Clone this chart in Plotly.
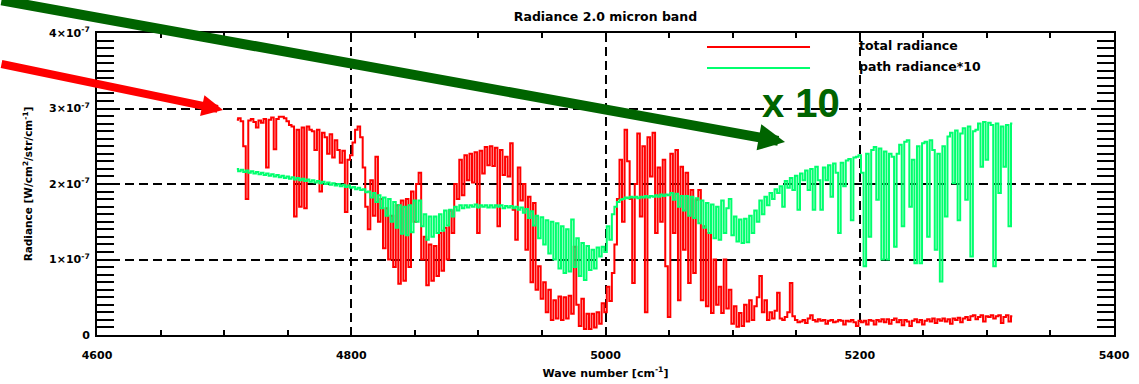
import plotly.graph_objects as go

# ---------------- data ----------------
WN_START = 4710          # cm^-1, first sample
WN_STEP = 2              # cm^-1, sample spacing
VALUE_UNIT = 1e-9        # arrays below are in units of 1e-9 W/cm2/str/cm-1

# total radiance (red)
total_radiance = [
    285, 287, 283, 250, 180, 284, 286, 282, 275, 284,   # 4710-4728
    281, 286, 222, 285, 288, 246, 286, 289, 289, 287,   # 4730-4748
    283, 278, 276, 157, 272, 170, 275, 168, 276, 272,   # 4750-4768
    270, 245, 272, 190, 268, 262, 240, 266, 235, 258,   # 4770-4788
    245, 228, 244, 163, 232, 238, 255, 272, 276, 262,   # 4790-4808
    222, 170, 140, 205, 158, 236, 150, 180, 115, 168,   # 4810-4828
    100, 158, 90, 172, 68, 178, 72, 180, 90, 190,       # 4830-4848
    150, 200, 215, 100, 130, 66, 120, 72, 118, 78,      # 4850-4868
    135, 85, 142, 100, 165, 135, 200, 180, 232, 185,    # 4870-4888
    238, 205, 240, 202, 242, 135, 244, 214, 249, 225,   # 4890-4908
    250, 224, 248, 144, 245, 212, 236, 210, 254, 166,   # 4910-4928
    126, 222, 178, 200, 113, 183, 70, 175, 60, 91,      # 4930-4948
    48, 70, 30, 60, 20, 46, 22, 51, 20, 50,             # 4950-4968
    22, 52, 28, 117, 40, 12, 48, 8, 28, 8,              # 4970-4988
    28, 10, 30, 15, 42, 30, 64, 45, 82, 120,            # 4990-5008
    180, 232, 150, 272, 230, 180, 69, 200, 267, 157,    # 5010-5028
    250, 30, 262, 210, 268, 135, 222, 150, 232, 91,     # 5030-5048
    24, 240, 135, 245, 46, 223, 113, 215, 69, 192,      # 5050-5068
    82, 179, 192, 46, 144, 38, 135, 29, 100, 40,        # 5070-5088
    64, 29, 100, 35, 60, 15, 38, 11, 29, 12,            # 5090-5108
    40, 18, 46, 20, 38, 50, 78, 30, 46, 20,             # 5110-5128
    30, 22, 32, 56, 22, 20, 24, 30, 69, 25,             # 5130-5148
    20, 17, 18, 20, 16, 22, 26, 20, 18, 21,             # 5150-5168
    19, 20, 15, 19, 20, 17, 18, 20, 19, 14,             # 5170-5188
    19, 18, 20, 17, 12, 19, 17, 19, 14, 20,             # 5190-5208
    19, 14, 20, 18, 21, 17, 21, 15, 20, 22,             # 5210-5228
    17, 20, 13, 20, 18, 12, 19, 21, 17, 20,             # 5230-5248
    14, 19, 21, 18, 22, 16, 21, 19, 22, 18,             # 5250-5268
    21, 15, 22, 20, 23, 17, 22, 24, 20, 25,             # 5270-5288
    26, 21, 24, 26, 18, 25, 24, 26, 22, 25,             # 5290-5308
    26, 16, 24, 26, 18, 25,                             # 5310-5320
]

# path radiance * 10 (green)
path_radiance_x10 = [
    220, 217, 219, 216, 218, 215, 217, 214, 216, 213,   # 4710-4728
    215, 212, 214, 211, 213, 210, 212, 209, 211, 208,   # 4730-4748
    210, 207, 209, 206, 208, 205, 207, 204, 206, 203,   # 4750-4768
    205, 202, 204, 201, 203, 200, 202, 199, 201, 198,   # 4770-4788
    200, 197, 199, 196, 198, 195, 196, 193, 195, 192,   # 4790-4808
    193, 189, 190, 182, 188, 176, 185, 168, 182, 158,   # 4810-4828
    180, 150, 176, 142, 172, 134, 170, 132, 172, 136,   # 4830-4848
    178, 150, 178, 144, 160, 126, 157, 130, 157, 135,   # 4850-4868
    160, 138, 165, 145, 166, 157, 170, 165, 172, 168,   # 4870-4888
    172, 169, 172, 170, 173, 169, 172, 170, 172, 169,   # 4890-4908
    172, 169, 172, 170, 172, 168, 171, 169, 171, 168,   # 4910-4928
    170, 166, 169, 162, 167, 155, 164, 145, 158, 128,   # 4930-4948
    156, 120, 152, 108, 150, 100, 148, 88, 144, 82,     # 4950-4968
    140, 84, 153, 90, 128, 78, 122, 73, 118, 86,        # 4970-4988
    113, 88, 116, 104, 117, 110, 144, 126, 160, 170,    # 4990-5008
    176, 179, 180, 182, 181, 183, 182, 183, 181, 183,   # 5010-5028
    182, 184, 182, 184, 183, 185, 183, 186, 184, 186,   # 5030-5048
    185, 188, 179, 187, 170, 184, 165, 184, 158, 183,   # 5050-5068
    155, 181, 148, 178, 142, 175, 135, 173, 128, 170,   # 5070-5088
    126, 178, 135, 168, 180, 132, 157, 124, 153, 122,   # 5090-5108
    154, 123, 158, 135, 165, 150, 178, 160, 183, 172,   # 5110-5128
    188, 180, 193, 188, 197, 170, 204, 195, 208, 192,   # 5130-5148
    211, 166, 214, 205, 218, 192, 220, 166, 223, 205,   # 5150-5168
    166, 222, 205, 225, 183, 227, 215, 135, 228, 197,   # 5170-5188
    231, 233, 152, 235, 236, 238, 215, 91, 240, 130,    # 5190-5208
    245, 249, 179, 247, 100, 243, 100, 240, 236, 117,   # 5210-5228
    240, 252, 144, 256, 258, 170, 232, 95, 250, 95,     # 5230-5248
    254, 256, 130, 258, 245, 113, 240, 71, 250, 157,    # 5250-5268
    263, 268, 201, 271, 152, 267, 274, 179, 276, 104,   # 5270-5288
    270, 272, 280, 223, 282, 232, 281, 278, 91, 280,    # 5290-5308
    188, 276, 223, 278, 144, 280,                       # 5310-5320
]

wavenumber = [WN_START + WN_STEP * i for i in range(len(total_radiance))]

x_tickvals = [4600, 4800, 5000, 5200, 5400]
x_ticktext = ["4600", "4800", "5000", "5200", "5400"]
y_tickvals = [0, 1e-7, 2e-7, 3e-7, 4e-7]
y_ticktext = ["0", "1×10<sup>-7</sup>", "2×10<sup>-7</sup>",
              "3×10<sup>-7</sup>", "4×10<sup>-7</sup>"]
x_minor = [v for v in range(4600, 5401, 50) if v % 200]
y_minor = [k * 1e-8 for k in range(41) if k % 10]

legend_labels = ["total radiance", "path radiance*10"]

RED = "#FF0000"
GREEN = "#00FF6E"
DARKGREEN = "#006400"
FONT = "DejaVu Sans, Liberation Sans, Arial, sans-serif"

# ---------------- figure ----------------
fig = go.Figure()
fig.add_trace(go.Scatter(
    x=wavenumber, y=[v * VALUE_UNIT for v in total_radiance],
    mode="lines", line=dict(color=RED, width=2, shape="hvh"),
    name=legend_labels[0]))
fig.add_trace(go.Scatter(
    x=wavenumber, y=[v * VALUE_UNIT for v in path_radiance_x10],
    mode="lines", line=dict(color=GREEN, width=2, shape="hvh"),
    name=legend_labels[1]))

fig.update_layout(
    width=1139, height=384,
    margin=dict(l=97, r=25, t=33, b=49, autoexpand=False),
    paper_bgcolor="white", plot_bgcolor="white",
    showlegend=False,
    font=dict(family=FONT, color="black", size=12),
    title=dict(text="Radiance 2.0 micron band", x=0.5, xref="paper",
               xanchor="center", y=1 - 17 / 384, yref="container",
               yanchor="middle",
               font=dict(size=12.5, weight="bold", family=FONT)),
)

fig.update_xaxes(
    automargin=False,
    range=[4600, 5400], tickmode="array", tickvals=x_tickvals,
    ticktext=x_ticktext, ticks="inside", ticklen=5, tickwidth=1.5,
    tickcolor="black", showline=True, linewidth=2, linecolor="black",
    mirror="allticks", showgrid=True, gridcolor="black", gridwidth=1.6,
    griddash="9px,5px", zeroline=False,
    minor=dict(tickmode="array", tickvals=x_minor, ticks="inside",
               ticklen=5, tickwidth=1.5, tickcolor="black", showgrid=False),
    tickfont=dict(size=11, weight="bold"), ticklabelstandoff=9,
    title=dict(text="Wave number [cm<sup>-1</sup>]",
               font=dict(size=11, weight="bold"), standoff=8),
)
fig.update_yaxes(
    automargin=False,
    range=[0, 4e-7], tickmode="array", tickvals=y_tickvals,
    ticktext=y_ticktext, ticks="inside", ticklen=17, tickwidth=1.5,
    tickcolor="black", showline=True, linewidth=2, linecolor="black",
    mirror="allticks", showgrid=True, gridcolor="black", gridwidth=1.6,
    griddash="9px,5px", zeroline=False,
    minor=dict(tickmode="array", tickvals=y_minor, ticks="inside",
               ticklen=17, tickwidth=1.5, tickcolor="black", showgrid=False),
    tickfont=dict(size=11, weight="bold"), ticklabelstandoff=3,
    title=dict(text="Radiance [W/cm<sup>2</sup>/str/cm<sup>-1</sup>]",
               font=dict(size=10.5, weight="bold"), standoff=14),
)

# legend drawn as in the original (long sample lines + text)
for i, (col, yy) in enumerate([(RED, 0.9536), (GREEN, 0.8841)]):
    fig.add_shape(type="line", xref="paper", yref="paper",
                  x0=0.5998, x1=0.7011, y0=yy, y1=yy,
                  line=dict(color=col, width=2))
    fig.add_annotation(xref="paper", yref="paper", x=0.747, y=yy + 0.006,
                       xanchor="left", yanchor="middle", showarrow=False,
                       text=legend_labels[i],
                       font=dict(size=12.5, weight="bold", color="black"))

# overlay arrows and "x 10" label
fig.add_annotation(xref="paper", yref="paper", x=0.6765, y=0.639,
                   ax=-805, ay=-145.6, axref="pixel", ayref="pixel",
                   text="", showarrow=True, arrowhead=2, arrowsize=0.53,
                   arrowwidth=10, arrowcolor=DARKGREEN, standoff=0)
fig.add_annotation(xref="paper", yref="paper", x=0.1239, y=0.745,
                   ax=-243, ay=-46.3, axref="pixel", ayref="pixel",
                   text="", showarrow=True, arrowhead=2, arrowsize=0.53,
                   arrowwidth=8, arrowcolor=RED, standoff=0)
fig.add_annotation(xref="paper", yref="paper", x=0.692, y=0.768,
                   xanchor="center", yanchor="middle", showarrow=False,
                   text="x 10",
                   font=dict(size=40, weight="bold", color=DARKGREEN,
                             family="Liberation Sans, Arial, sans-serif"))

fig.write_html("out.html")
